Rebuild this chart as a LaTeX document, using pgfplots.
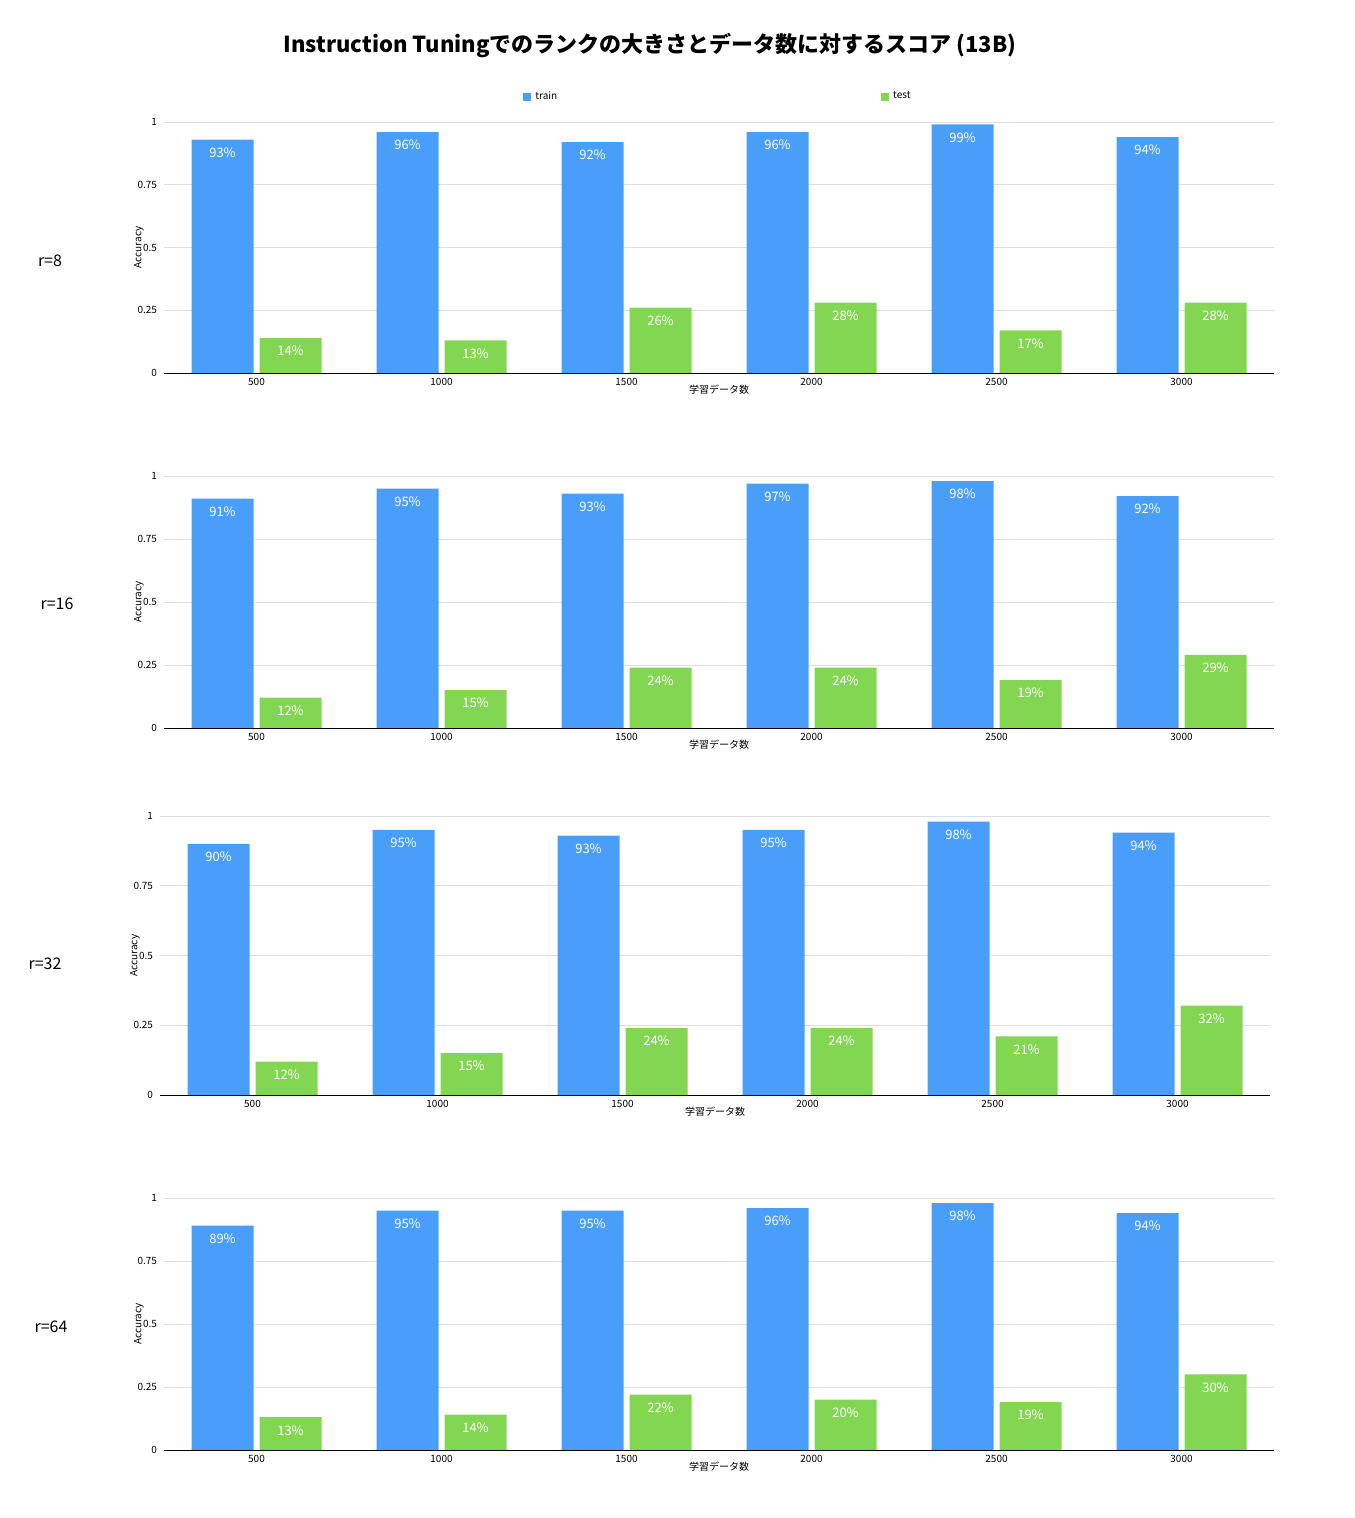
\documentclass[border=0pt]{standalone}
\usepackage{pgfplots}
\pgfplotsset{compat=1.18}
\usepackage{fontspec}
\setmainfont{Noto Sans CJK JP}
\definecolor{cb}{HTML}{489EF8}
\definecolor{cg}{HTML}{82D652}
\pgfplotsset{myax/.style={
  scale only axis, width=555pt, height=126pt,
  ybar, bar width=31pt,
  xmin=-0.5, xmax=5.5, ymin=0, ymax=1,
  xtick={0,...,5}, xticklabels={500,1000,1500,2000,2500,3000},
  ytick={0,0.25,0.5,0.75,1}, yticklabels={0,0.25,0.5,0.75,1},
  ymajorgrids, grid style={gray!25},
  axis y line*=left, axis x line*=bottom,
  y axis line style={draw=none}, x axis line style={black,-},
  major tick length=0pt,
  tick label style={font=\fontsize{5}{6}\selectfont},
  xticklabel style={yshift=1pt},
  xlabel={学習データ数}, ylabel={Accuracy},
  xlabel style={font=\fontsize{5}{6}\selectfont, yshift=7pt},
  ylabel style={font=\fontsize{5}{6}\selectfont, yshift=-10pt},
  point meta={y*100},
  nodes near coords={\pgfmathprintnumber[fixed,precision=0]{\pgfplotspointmeta}\%},
  nodes near coords style={anchor=north, text=white, font=\fontsize{6.5}{7}\selectfont, yshift=-0.5pt},
  /pgf/number format/assume math mode=true,
}}
\begin{document}
\begin{tikzpicture}
\useasboundingbox (0,0) rectangle (677pt,759pt);
\node[font=\bfseries\fontsize{11}{13}\selectfont] at (325pt,736.5pt) {Instruction Tuningでのランクの大きさとデータ数に対するスコア (13B)};
\node[font=\fontsize{8}{9}\selectfont] at (25pt,628.5pt) {r=8};
\node[font=\fontsize{8}{9}\selectfont] at (28.5pt,457pt) {r=16};
\node[font=\fontsize{8}{9}\selectfont] at (22.5pt,277pt) {r=32};
\node[font=\fontsize{8}{9}\selectfont] at (25.5pt,95.5pt) {r=64};
\begin{axis}[myax, at={(82pt,572.5pt)}, height=125.5pt,
  legend style={at={(0.5,1.1)}, anchor=center, draw=none, font=\fontsize{5}{6}\selectfont, /tikz/every even column/.append style={column sep=160pt}},
  legend columns=2,
  legend image code/.code={\fill[#1,draw=none] (0pt,-2pt) rectangle (4pt,2pt);}]
\addplot[fill=cb,draw=none,bar shift=-17pt] coordinates {(0,0.93)(1,0.96)(2,0.92)(3,0.96)(4,0.99)(5,0.94)};
\addplot[fill=cg,draw=none,bar shift=17pt] coordinates {(0,0.14)(1,0.13)(2,0.26)(3,0.28)(4,0.17)(5,0.28)};
\legend{train,test}
\end{axis}
\begin{axis}[myax, at={(82pt,395pt)}]
\addplot[fill=cb,draw=none,bar shift=-17pt] coordinates {(0,0.91)(1,0.95)(2,0.93)(3,0.97)(4,0.98)(5,0.92)};
\addplot[fill=cg,draw=none,bar shift=17pt] coordinates {(0,0.12)(1,0.15)(2,0.24)(3,0.24)(4,0.19)(5,0.29)};
\end{axis}
\begin{axis}[myax, at={(80pt,211.5pt)}, height=139.5pt]
\addplot[fill=cb,draw=none,bar shift=-17pt] coordinates {(0,0.90)(1,0.95)(2,0.93)(3,0.95)(4,0.98)(5,0.94)};
\addplot[fill=cg,draw=none,bar shift=17pt] coordinates {(0,0.12)(1,0.15)(2,0.24)(3,0.24)(4,0.21)(5,0.32)};
\end{axis}
\begin{axis}[myax, at={(82pt,34pt)}]
\addplot[fill=cb,draw=none,bar shift=-17pt] coordinates {(0,0.89)(1,0.95)(2,0.95)(3,0.96)(4,0.98)(5,0.94)};
\addplot[fill=cg,draw=none,bar shift=17pt] coordinates {(0,0.13)(1,0.14)(2,0.22)(3,0.20)(4,0.19)(5,0.30)};
\end{axis}
\end{tikzpicture}
\end{document}
